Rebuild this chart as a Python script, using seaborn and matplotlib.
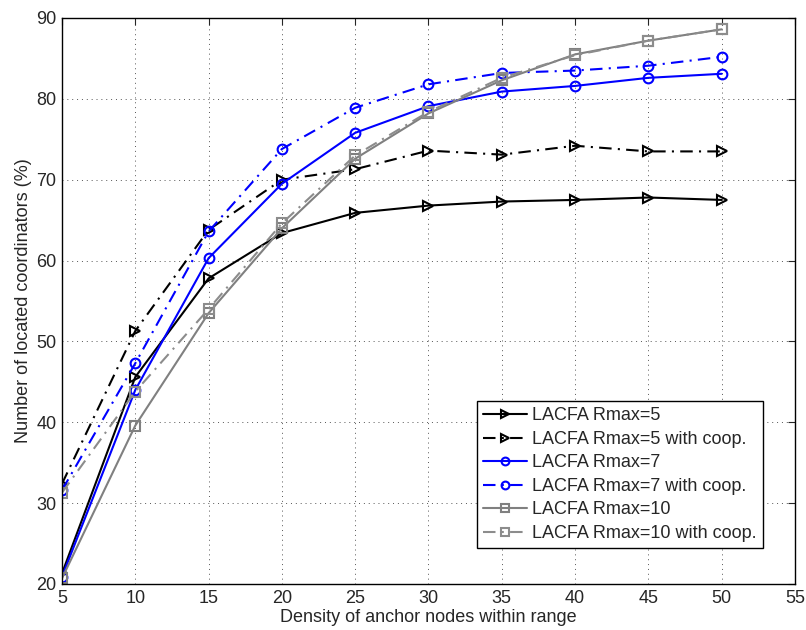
import matplotlib
matplotlib.use("Agg")
import matplotlib.pyplot as plt
import seaborn as sns
import pandas as pd

density = [5, 10, 15, 20, 25, 30, 35, 40, 45, 50]
r5 = [21.3, 45.6, 57.8, 63.4, 65.9, 66.8, 67.3, 67.5, 67.8, 67.5]
r5_coop = [32.4, 51.3, 63.8, 70.0, 71.3, 73.6, 73.1, 74.2, 73.5, 73.5]
r7 = [20.9, 44.0, 60.3, 69.5, 75.8, 79.1, 80.9, 81.6, 82.6, 83.1]
r7_coop = [31.6, 47.3, 63.6, 73.8, 78.9, 81.8, 83.2, 83.5, 84.1, 85.2]
r10 = [20.7, 39.6, 53.5, 64.0, 72.6, 78.2, 82.3, 85.5, 87.2, 88.6]
r10_coop = [31.3, 43.8, 54.0, 64.6, 73.0, 78.4, 82.6, 85.4, 87.2, 88.6]

labels = ["LACFA Rmax=5", "LACFA Rmax=5 with coop.", "LACFA Rmax=7",
          "LACFA Rmax=7 with coop.", "LACFA Rmax=10", "LACFA Rmax=10 with coop."]
series = [r5, r5_coop, r7, r7_coop, r10, r10_coop]
colors = ["black", "black", "#0000ff", "#0000ff", "#808080", "#8c8c8c"]
styles = ["-", (0, (6, 3, 1, 3)), "-", (0, (6, 3, 1, 3)), "-", (0, (6, 3, 1, 3))]
markers = [">", ">", "o", "o", "s", "s"]

sns.set_style("white")
plt.rcParams["font.family"] = ["Liberation Sans", "DejaVu Sans"]

fig = plt.figure(figsize=(8.06, 6.30), dpi=100)
ax = fig.add_axes([62 / 806, 46 / 630, 733 / 806, 566 / 630])

for lab, vals, c, ls, m in zip(labels, series, colors, styles, markers):
    df = pd.DataFrame({"x": density, "y": vals})
    sns.lineplot(data=df, x="x", y="y", ax=ax, color=c, linestyle=ls,
                 marker=m, markersize=7, markerfacecolor="none",
                 markeredgecolor=c, markeredgewidth=1.5, linewidth=1.5,
                 label=lab)

ax.set_xlim(5, 55)
ax.set_ylim(20, 90)
ax.set_xticks(range(5, 56, 5))
ax.set_yticks(range(20, 91, 10))
ax.tick_params(direction="in", top=True, right=True, labelsize=13, length=5,
               width=0.8, pad=4)
ax.grid(True, linestyle=(0, (1, 4)), color="#555555", linewidth=0.7)
for s in ax.spines.values():
    s.set_color("black")
    s.set_linewidth(1.0)
ax.set_xlabel("Density of anchor nodes within range", fontsize=13, labelpad=2)
ax.set_ylabel("Number of located coordinators (%)", fontsize=13, labelpad=3)

leg = ax.legend(loc="upper right", bbox_to_anchor=(0.9563, 0.3233),
                borderaxespad=0,
                fontsize=13, frameon=True, fancybox=False, edgecolor="black",
                handlelength=2.4, borderpad=0.35, labelspacing=0.36,
                handletextpad=0.3, framealpha=1, markerscale=0.8)
leg.get_frame().set_linewidth(1.0)

fig.savefig("out.png", dpi=100)
